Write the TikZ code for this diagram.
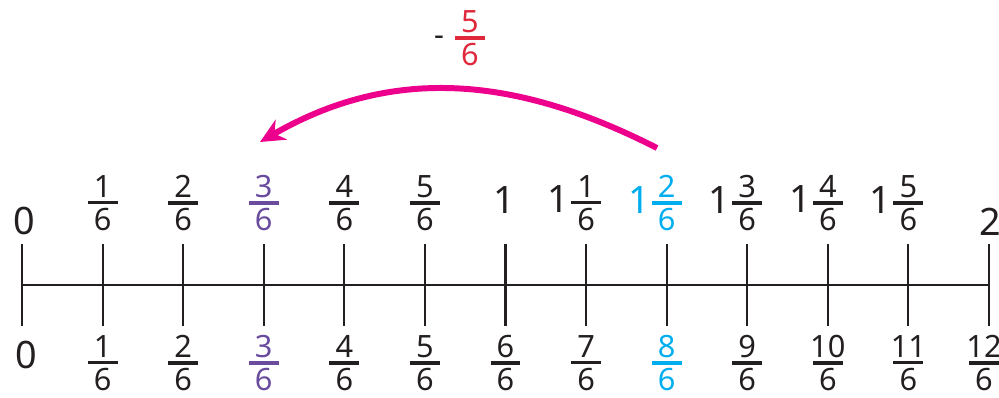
\documentclass[tikz,border=0pt]{standalone}
\usepackage{amsmath}
\usepackage{fontspec}
\setmainfont{Noto Sans}
\usepackage{tikz}
\usetikzlibrary{arrows.meta}
\definecolor{ink}{HTML}{231F20}
\definecolor{plum}{HTML}{6A4C9F}
\definecolor{sky}{HTML}{00AEEF}
\definecolor{rose}{HTML}{E0283C}
\definecolor{hopink}{HTML}{EC008C}
\newcommand{\frc}[2]{$\genfrac{}{}{2pt}{1}{\makebox[17pt]{#1}}{\makebox[17pt]{#2}}$}
\newcommand{\whole}[1]{{\fontsize{21.5}{24}\selectfont #1}}

\begin{document}
\begin{tikzpicture}[x=0.02cm,y=0.02cm,font=\fontsize{17.5}{20}\selectfont,
    every node/.style={text=ink,inner sep=1pt},
    axis/.style={draw=ink,line width=1.2pt},
    jumparrow/.style={draw=hopink,line width=3.4pt,-{Stealth[length=14pt,width=13pt]}}]
  \useasboundingbox (0,0) rectangle (999,398);
  % number line
  \foreach \i in {0,...,12} \coordinate (t\i) at ({22+80.58*\i},113);
  \draw[axis] (t0) -- (t12);
  \foreach \i in {0,...,12} \draw[axis] (t\i) ++(0,41) -- ++(0,-82);
  % mixed numbers above
  \node (top0) at (24,177) {\whole{0}};
  \foreach \i/\c in {1/ink,2/ink,3/plum,4/ink,5/ink}
    \node[text=\c] (top\i) at ({22+80.58*\i},195) {\frc{\i}{6}};
  \node (top6) at (504,198) {\whole{1}};
  \foreach \i/\n/\c in {7/1/ink,8/2/sky,9/3/ink,10/4/ink,11/5/ink}
    \node[text=\c] (top\i) at ({22+80.58*\i},195) {\llap{\raisebox{-1.5pt}{\whole{1}}}\frc{\n}{6}};
  \node (top12) at (990,176) {\whole{2}};
  % improper fractions below
  \node (bot0) at (26,43) {\whole{0}};
  \foreach \i/\c in {1/ink,2/ink,3/plum,4/ink,5/ink,6/ink,7/ink,8/sky,9/ink,10/ink,11/ink}
    \node[text=\c] (bot\i) at ({22+80.58*\i},35) {\frc{\i}{6}};
  \node (bot12) at (984,35) {\frc{12}{6}};
  % jump back by five sixths
  \node[text=rose] (jlab) at (470,360) {\frc{5}{6}};
  \node[anchor=base] (jsign) at (439,352) {\textbf{-}};
  \coordinate (jfrom) at (657,250);
  \coordinate (jto) at (260,256);
  \draw[jumparrow] (jfrom) to[out=153,in=30] (jto);
\end{tikzpicture}
\end{document}
